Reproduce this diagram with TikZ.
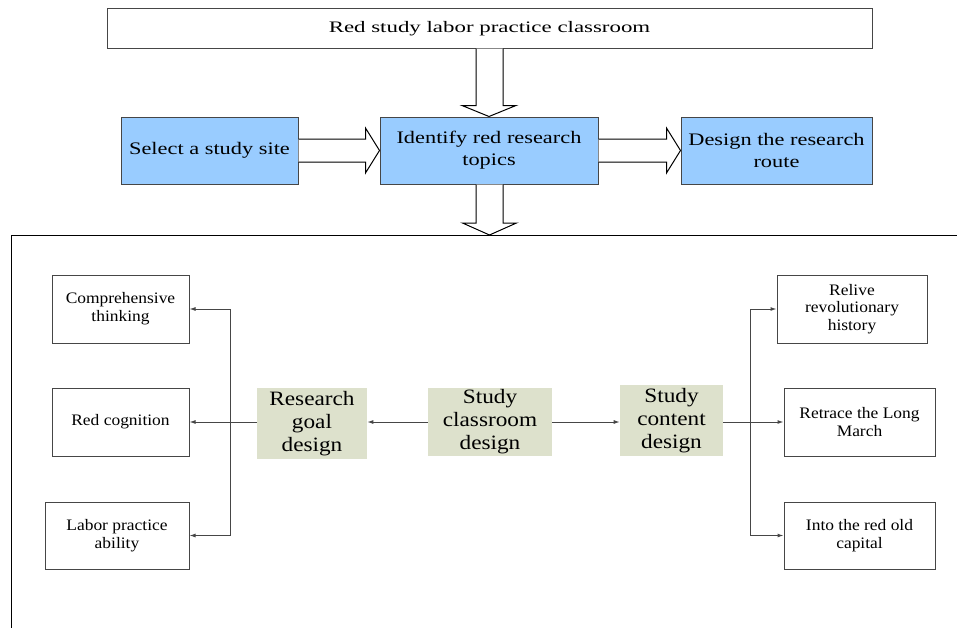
\documentclass[tikz,border=0pt]{standalone}
\usepackage{fontspec}
\setmainfont{Liberation Serif}
\newfontfamily\topfont[FakeStretch=1.43]{Liberation Serif}
\newfontfamily\bluefont[FakeStretch=1.27]{Liberation Serif}
\newfontfamily\greenfont[FakeStretch=1.14]{Liberation Serif}
\newfontfamily\smallfont[FakeStretch=1.09]{Liberation Serif}
\usetikzlibrary{calc,arrows.meta}
\definecolor{boxblue}{RGB}{153,204,255}
\definecolor{boxgreen}{RGB}{221,225,204}
\definecolor{linegray}{RGB}{70,70,70}
\tikzset{
  topbox/.style={draw=linegray,line width=0.75pt,minimum width=573.75pt,minimum height=30pt,inner sep=1pt,font=\topfont\fontsize{12}{14}\selectfont},
  bluebox/.style={draw=linegray,line width=0.75pt,fill=boxblue,minimum height=50.25pt,inner sep=1pt,align=center,font=\bluefont\fontsize{13.2}{16.5}\selectfont},
  greenbox/.style={fill=boxgreen,inner sep=1pt,align=center,font=\greenfont\fontsize{15.3}{17.3}\selectfont},
  smallbox/.style={draw=linegray,line width=0.75pt,minimum height=51pt,inner sep=1pt,align=center,font=\smallfont\fontsize{12}{13.3}\selectfont},
  fatarr/.style={draw=black,line width=0.75pt,fill=white,line join=miter},
  sarr/.style={draw=linegray,line width=0.75pt,-{Latex[length=4.5pt,width=3pt]}}
}
\begin{document}
\begin{tikzpicture}[x=0.75pt,y=0.75pt,yscale=-1,xscale=1]
\useasboundingbox (0,0) rectangle (957,628);
% top part
\node[topbox,text depth=1pt] (top) at (489.5,28) {Red study labor practice classroom};
\node[bluebox,minimum width=132.75pt] (site) at (209.5,150.5) {\raisebox{-2pt}{Select a study site}};
\node[bluebox,minimum width=163.5pt] (topics) at (489,150.5) {Identify red research\\topics};
\node[bluebox,minimum width=143.25pt] (route) at (776.5,150.5) {Design the research\\route};
% frame
\coordinate (framecorner) at (11,235);
\coordinate (frametop) at (489.5,235);
\draw[line width=0.75pt] (957,235) -- (framecorner) -- (11,628);
% hollow arrows
\draw[fatarr] ($(top.south)+(-13.5,0)$) -- ($(topics.north)+(-13,-11)$) -- ($(topics.north)+(-27,-11)$) -- ($(topics.north)+(0,0)$) -- ($(topics.north)+(27,-11)$) -- ($(topics.north)+(14,-11)$) -- ($(top.south)+(13.5,0)$);
\draw[fatarr] ($(topics.south)+(-13,0)$) -- ($(frametop)+(-13.5,-12)$) -- ($(frametop)+(-27,-12)$) -- (frametop) -- ($(frametop)+(27,-12)$) -- ($(frametop)+(13.5,-12)$) -- ($(topics.south)+(14,0)$);
\draw[fatarr] ($(site.east)+(0,-11.5)$) -- ($(topics.west)+(-14,-11.5)$) -- ($(topics.west)+(-14,-22.5)$) -- (topics.west) -- ($(topics.west)+(-14,22.5)$) -- ($(topics.west)+(-14,11.5)$) -- ($(site.east)+(0,11.5)$);
\draw[fatarr] ($(topics.east)+(0,-11.5)$) -- ($(route.west)+(-14,-11.5)$) -- ($(route.west)+(-14,-22.5)$) -- (route.west) -- ($(route.west)+(-14,22.5)$) -- ($(route.west)+(-14,11.5)$) -- ($(topics.east)+(0,11.5)$);

% lower part
\node[greenbox,minimum width=93pt,minimum height=51pt] (classroom) at (490,422) {Study\\classroom\\design};
\node[greenbox,minimum width=82.5pt,minimum height=53.25pt] (goal) at (312,423.5) {Research\\goal\\design};
\node[greenbox,minimum width=77.25pt,minimum height=53.25pt] (content) at (671.5,420.5) {Study\\content\\design};

\node[smallbox,minimum width=102.75pt] (thinking) at (120.5,309) {Comprehensive\\thinking};
\node[smallbox,minimum width=102.75pt] (cognition) at (120.5,422) {Red cognition};
\node[smallbox,minimum width=108pt,minimum height=50.25pt] (ability) at (117,535.5) {Labor practice\\ability};

\node[smallbox,minimum width=112.5pt] (history) at (852,309) {Relive\\revolutionary\\history};
\node[smallbox,minimum width=113.25pt] (march) at (859.5,422) {Retrace the Long\\March};
\node[smallbox,minimum width=113.25pt,minimum height=50.25pt] (capital) at (859.5,535.5) {Into the red old\\capital};

\coordinate (lbus) at (230,422);
\coordinate (rbus) at (750,422);

\draw[sarr] (classroom.west) -- (classroom.west -| goal.east);
\draw[sarr] (classroom.east) -- (classroom.east -| content.west);
\draw[sarr] (goal.west |- cognition.east) -- (cognition.east);
\draw[sarr] (thinking.east -| lbus) -- (thinking.east);
\draw[sarr] (thinking.east -| lbus) -- (ability.east -| lbus) -- (ability.east);
\draw[sarr] (content.east |- march.west) -- (march.west);
\draw[sarr] (capital.west -| rbus) -- (history.west -| rbus) -- (history.west);
\draw[sarr] (history.west -| rbus) -- (capital.west -| rbus) -- (capital.west);

\end{tikzpicture}
\end{document}
